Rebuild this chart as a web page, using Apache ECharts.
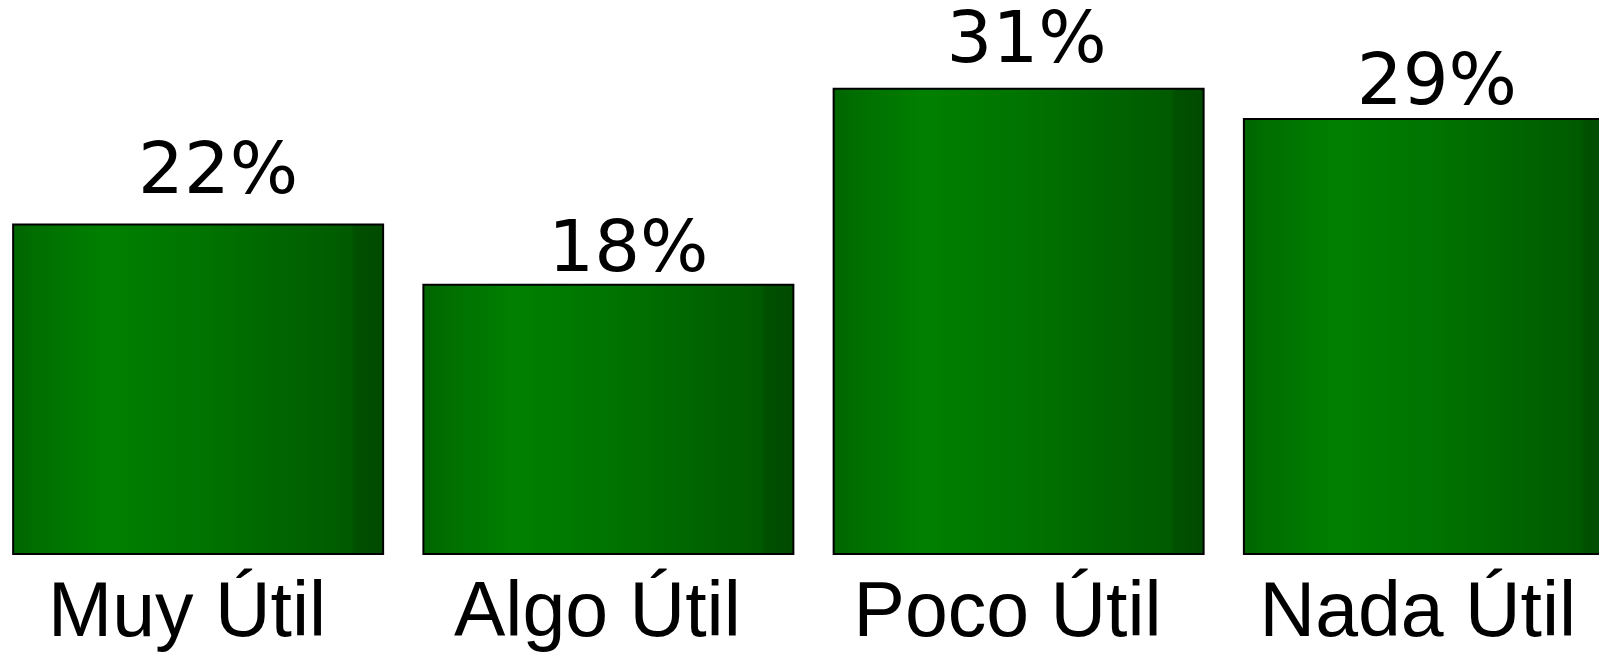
<!DOCTYPE html>
<html>
<head>
<meta charset="utf-8">
<script src="https://cdn.jsdelivr.net/npm/echarts@6/dist/echarts.min.js"></script>
<style>
html,body{margin:0;padding:0;background:#fff;overflow:hidden;width:1599px;height:657px;}
#c{position:absolute;left:-7px;top:0;width:1641px;height:657px;}
</style>
</head>
<body>
<div id="c"></div>
<script>
const categories = ['Muy Útil', 'Algo Útil', 'Poco Útil', 'Nada Útil'];
const values = [22, 18, 31, 29];

// label placement nudges (style only), in px: [dx, dy]
const labelNudge = [[20, 3], [20, 21], [8, 8], [8, 19]];

const chart = echarts.init(document.getElementById('c'), null, {renderer: 'canvas'});
const barGradient = new echarts.graphic.LinearGradient(0, 0, 1, 0, [
  {offset: 0, color: '#006400'},
  {offset: 0.06, color: '#006e00'},
  {offset: 0.25, color: '#008000'},
  {offset: 0.5, color: '#007400'},
  {offset: 0.75, color: '#006400'},
  {offset: 0.91, color: '#005a00'},
  {offset: 0.92, color: '#005000'},
  {offset: 1, color: '#004a00'}
]);
chart.setOption({
  animation: false,
  backgroundColor: '#ffffff',
  grid: {left: 0, right: 0, top: 27.5, bottom: 102, containLabel: false},
  xAxis: {
    type: 'category',
    data: categories,
    axisLine: {show: false},
    axisTick: {show: false},
    axisLabel: {
      color: '#000',
      fontFamily: '"Liberation Sans", Arial, sans-serif',
      fontSize: 77,
      margin: 21,
      padding: [0, 22, 0, 0],
      interval: 0
    }
  },
  yAxis: {
    type: 'value',
    min: 0,
    max: 35,
    show: false,
    splitLine: {show: false}
  },
  series: [{
    type: 'bar',
    data: values.map((v, i) => ({value: v, label: {offset: labelNudge[i]}})),
    barWidth: 372,
    itemStyle: {
      color: barGradient,
      borderColor: '#000',
      borderWidth: 2
    },
    label: {
      show: true,
      position: 'top',
      distance: 16,
      formatter: '{c}%',
      color: '#000',
      fontFamily: '"DejaVu Sans", sans-serif',
      fontSize: 72
    }
  }]
});
</script>
</body>
</html>
